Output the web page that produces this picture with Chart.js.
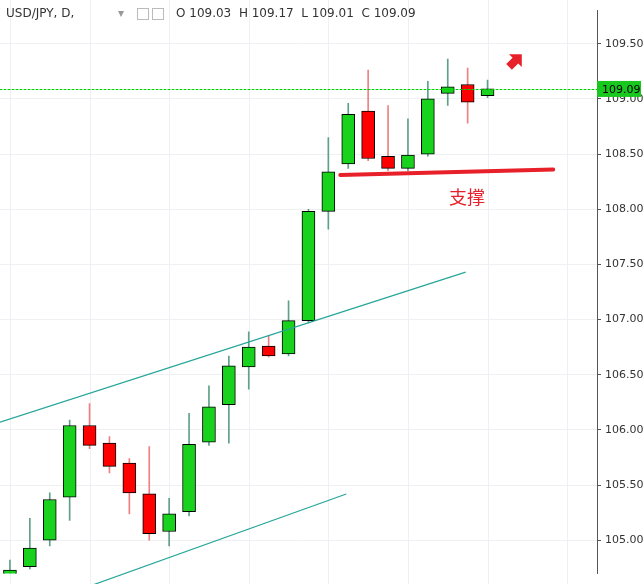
<!DOCTYPE html>
<html><head><meta charset="utf-8">
<script src="https://cdn.jsdelivr.net/npm/chart.js@4/dist/chart.umd.min.js"></script>
<style>html,body{margin:0;padding:0;background:#fff}#w{position:relative;width:644px;height:584px}</style>
</head><body><div id="w"><canvas id="c" width="644" height="584"></canvas></div>
<script>
const opens  = [104.60,104.76,105.00,105.39,106.04,105.88,105.70,105.42,105.08,105.26,105.89,106.23,106.57,106.76,106.69,106.99,107.98,108.41,108.89,108.48,108.37,108.50,109.05,109.13,109.03];
const highs  = [104.82,105.20,105.43,106.09,106.24,105.94,105.74,105.85,105.38,106.15,106.40,106.67,106.89,106.85,107.17,108.00,108.65,108.96,109.26,108.94,108.82,109.16,109.36,109.28,109.17];
const lows   = [104.55,104.74,104.95,105.18,105.83,105.61,105.24,105.00,104.95,105.22,105.86,105.88,106.37,106.66,106.67,106.97,107.82,108.37,108.44,108.35,108.35,108.48,108.94,108.78,109.01];
const closes = [104.73,104.93,105.37,106.04,105.86,105.67,105.43,105.06,105.24,105.87,106.21,106.58,106.75,106.67,106.99,107.98,108.34,108.86,108.46,108.37,108.49,109.00,109.11,108.97,109.09];
const yTicks = [105.00,105.50,106.00,106.50,107.00,107.50,108.00,108.50,109.00,109.50];
const slots = 30;
const labels = Array.from({length:slots},(_, i)=>String(i));
const lastPrice = 109.09;
const upperLine = [[-0.5,106.07],[22.9,107.43]];
const lowerLine = [[3.0,104.52],[16.9,105.42]];
const supportLine = [[16.6,108.31],[27.3,108.36]];

const up = opens.map((o,i)=>closes[i]>=o);
const bodies = opens.map((o,i)=>[Math.min(o,closes[i]),Math.max(o,closes[i])]);
const wicks = highs.map((h,i)=>[lows[i],h]);

const overlay = {
  id:'overlay',
  beforeDatasetsDraw(chart){
    const {ctx, scales:{x}, chartArea:a} = chart;
    ctx.save(); ctx.strokeStyle='#eef0f4'; ctx.lineWidth=1;
    for(let i=0;i<slots;i+=4){const X=Math.round(x.getPixelForValue(i))+0.5;ctx.beginPath();ctx.moveTo(X,0);ctx.lineTo(X,584);ctx.stroke();}
    ctx.restore();
  },
  afterDatasetsDraw(chart){
    const {ctx, scales:{x,y}, chartArea:a} = chart;
    const px = v=>x.getPixelForValue(v), py=v=>y.getPixelForValue(v);
    ctx.save();
    ctx.beginPath(); ctx.rect(0,0,a.right,584); ctx.clip();
    ctx.strokeStyle='#26a69a'; ctx.lineWidth=1.2;
    [upperLine,lowerLine].forEach(l=>{ctx.beginPath();ctx.moveTo(px(l[0][0]),py(l[0][1]));ctx.lineTo(px(l[1][0]),py(l[1][1]));ctx.stroke();});
    ctx.strokeStyle='#e8202a'; ctx.lineWidth=4; ctx.lineCap='round';
    ctx.beginPath();ctx.moveTo(px(supportLine[0][0]),py(supportLine[0][1]));ctx.lineTo(px(supportLine[1][0]),py(supportLine[1][1]));ctx.stroke();
    ctx.fillStyle='#e8202a'; ctx.font='18px "Noto Sans CJK SC"'; ctx.textAlign='left'; ctx.textBaseline='middle';
    ctx.fillText('支撑',449,197);
    ctx.save(); ctx.translate(514,62); ctx.rotate(-Math.PI/4);
    ctx.beginPath(); ctx.moveTo(-7,-4);ctx.lineTo(2,-4);ctx.lineTo(2,-9);ctx.lineTo(11,0);ctx.lineTo(2,9);ctx.lineTo(2,4);ctx.lineTo(-7,4);ctx.closePath();ctx.fill();
    ctx.restore();
    ctx.strokeStyle='#00d000'; ctx.lineWidth=1; ctx.setLineDash([2,2]);
    ctx.beginPath(); ctx.moveTo(0,Math.round(py(lastPrice))+0.5); ctx.lineTo(a.right,Math.round(py(lastPrice))+0.5); ctx.stroke();
    ctx.restore();
    ctx.save();
    ctx.fillStyle='#19c81e'; ctx.fillRect(a.right,py(lastPrice)-8,44,16);
    ctx.fillStyle='#000'; ctx.font='11px "DejaVu Sans"'; ctx.textBaseline='middle'; ctx.textAlign='left';
    ctx.fillText(lastPrice.toFixed(2),a.right+5,py(lastPrice)+1);
    ctx.font='12px "DejaVu Sans"'; ctx.fillStyle='#333';
    ctx.fillText('USD/JPY, D,',6,14);
    ctx.fillStyle='#999'; ctx.fillText('▾',118,14);
    ctx.strokeStyle='#bbb'; ctx.lineWidth=1; ctx.strokeRect(137.5,8.5,11,11); ctx.strokeRect(152.5,8.5,11,11);
    ctx.fillStyle='#333';
    ctx.fillText('O 109.03  H 109.17  L 109.01  C 109.09',176,14);
    ctx.restore();
  }
};

new Chart(document.getElementById('c'),{
  type:'bar',
  data:{labels,datasets:[
    {data:wicks,backgroundColor:up.map(u=>u?'#5fa08a':'#f08080'),barThickness:1,grouped:false,order:2},
    {data:bodies,backgroundColor:up.map(u=>u?'#19d21e':'#ff0000'),borderColor:'#000',borderWidth:1,borderSkipped:false,barThickness:13,grouped:false,order:1}
  ]},
  options:{
    responsive:false,animation:false,
    layout:{padding:0},
    plugins:{legend:{display:false},tooltip:{enabled:false}},
    scales:{
      x:{display:false,offset:true},
      y:{position:'right',min:104.70,max:109.80,
         afterBuildTicks:s=>{s.ticks=yTicks.map(v=>({value:v}));},
         afterFit:s=>{s.width=47;},
         border:{color:'#555'},
         grid:{color:'#eef0f4',drawTicks:true,tickLength:4,tickColor:'#555'},
         ticks:{color:'#333',font:{size:11,family:'DejaVu Sans'},padding:4,callback:v=>Number(v).toFixed(2)}}
    }
  },
  plugins:[overlay]
});
</script></body></html>
